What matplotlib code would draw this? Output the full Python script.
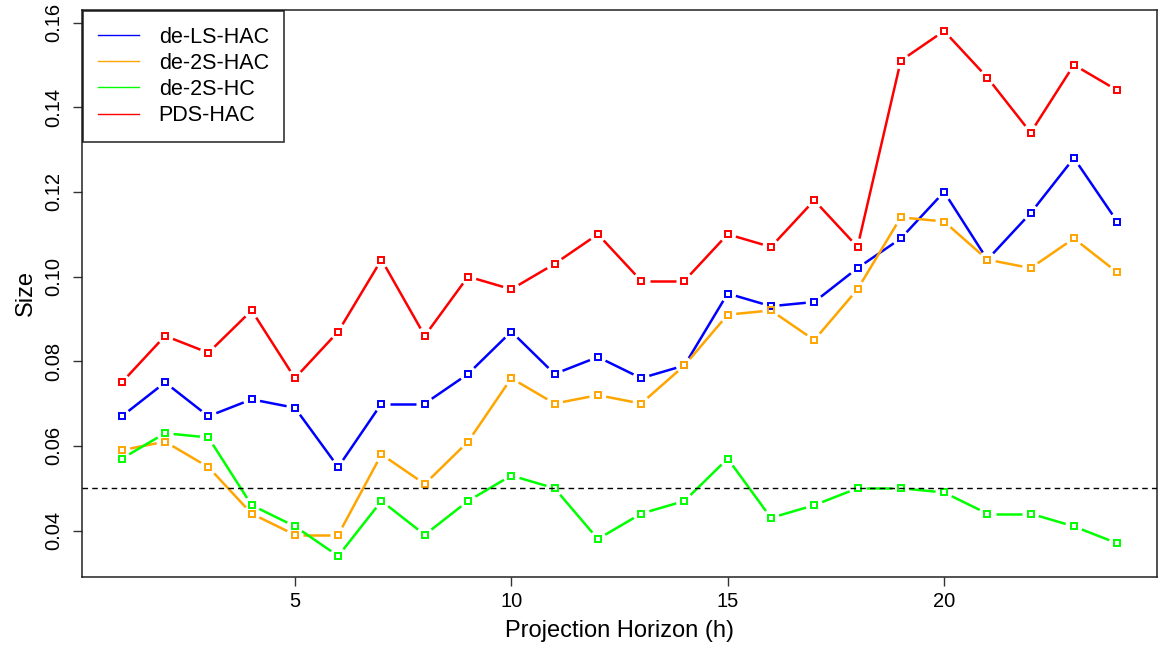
import numpy as np
import matplotlib
matplotlib.use("Agg")
import matplotlib.pyplot as plt

plt.rcParams['font.family'] = ['Liberation Sans', 'DejaVu Sans']

h = np.arange(1, 25)
de_ls_hac = [0.067, 0.075, 0.067, 0.071, 0.069, 0.055, 0.070, 0.070, 0.077, 0.087, 0.077, 0.081,
             0.076, 0.079, 0.096, 0.093, 0.094, 0.102, 0.109, 0.120, 0.104, 0.115, 0.128, 0.113]
de_2s_hac = [0.059, 0.061, 0.055, 0.044, 0.039, 0.039, 0.058, 0.051, 0.061, 0.076, 0.070, 0.072,
             0.070, 0.079, 0.091, 0.092, 0.085, 0.097, 0.114, 0.113, 0.104, 0.102, 0.109, 0.101]
de_2s_hc = [0.057, 0.063, 0.062, 0.046, 0.041, 0.034, 0.047, 0.039, 0.047, 0.053, 0.050, 0.038,
            0.044, 0.047, 0.057, 0.043, 0.046, 0.050, 0.050, 0.049, 0.044, 0.044, 0.041, 0.037]
pds_hac = [0.075, 0.086, 0.082, 0.092, 0.076, 0.087, 0.104, 0.086, 0.100, 0.097, 0.103, 0.110,
           0.099, 0.099, 0.110, 0.107, 0.118, 0.107, 0.151, 0.158, 0.147, 0.134, 0.150, 0.144]
nominal = 0.05

series = [("de-LS-HAC", de_ls_hac, "#0000FF"),
          ("de-2S-HAC", de_2s_hac, "#FFA500"),
          ("de-2S-HC", de_2s_hc, "#00FF00"),
          ("PDS-HAC", pds_hac, "#FF0000")]

W, H = 1163, 647
fig = plt.figure(figsize=(W / 100, H / 100), dpi=100)
ax = fig.add_axes([82 / W, 1 - 577 / H, (1157 - 82) / W, (577 - 10) / H])

# R-style 4% padding around the data range
allv = np.concatenate([np.asarray(s[1]) for s in series])
yr = allv.max() - allv.min()
ax.set_ylim(allv.min() - 0.04 * yr, allv.max() + 0.04 * yr)
xr = h.max() - h.min()
ax.set_xlim(h.min() - 0.04 * xr, h.max() + 0.04 * xr)


def gapped_line(ax, x, y, color, gap=8.5):
    # like type="b": segments stop short of each point
    pts = ax.transData.transform(np.column_stack([x, y]))
    inv = ax.transData.inverted()
    for p, q in zip(pts[:-1], pts[1:]):
        d = q - p
        L = np.hypot(*d)
        if L <= 2 * gap:
            continue
        u = d / L
        seg = inv.transform(np.array([p + u * gap, q - u * gap]))
        ax.plot(seg[:, 0], seg[:, 1], color=color, lw=1.8, solid_capstyle='butt')


handles = []
for name, vals, col in series:
    gapped_line(ax, h, vals, col)
    ax.plot(h, vals, ls='none', marker='s', ms=4.3, mfc='none', mec=col, mew=1.4)
    handles.append(plt.Line2D([], [], color=col, lw=1.0, label=name))

ax.axhline(nominal, color='black', lw=1.0, ls=(0, (4, 3)), zorder=5)

ax.set_xticks([5, 10, 15, 20])
ax.set_yticks([0.04, 0.06, 0.08, 0.10, 0.12, 0.14, 0.16])
ax.set_yticklabels(["0.04", "0.06", "0.08", "0.10", "0.12", "0.14", "0.16"],
                   rotation=90, va='center')
ax.tick_params(direction='out', length=6.5, width=1.0, labelsize=14.5, color='#333333')
ax.tick_params(axis='x', pad=4)
ax.tick_params(axis='y', pad=7)
for sp in ax.spines.values():
    sp.set_linewidth(1.1)
    sp.set_color('#222222')

ax.set_xlabel("Projection Horizon (h)", fontsize=17, labelpad=7)
ax.set_ylabel("Size", fontsize=17, labelpad=5)

leg = ax.legend(handles=handles, loc='upper left', bbox_to_anchor=(0.0008, 0.998),
                borderaxespad=0, fontsize=15.5, frameon=True, fancybox=False,
                handlelength=1.9, handletextpad=0.9, labelspacing=0.24, borderpad=0.72)
leg.get_frame().set_edgecolor('black')
leg.get_frame().set_linewidth(1.2)

fig.savefig("out.png", dpi=100)
